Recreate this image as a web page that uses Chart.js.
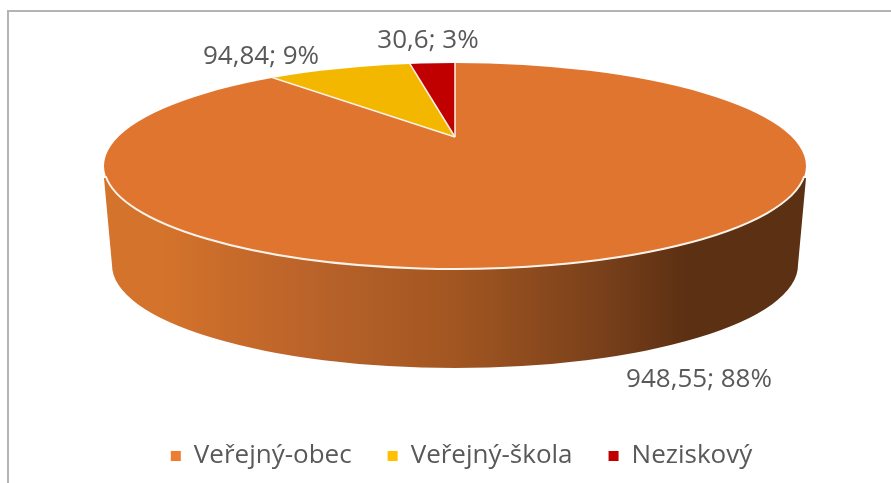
<!DOCTYPE html>
<html lang="cs">
<head>
<meta charset="utf-8">
<title>Graf</title>
<script src="https://cdn.jsdelivr.net/npm/chart.js@4/dist/chart.umd.min.js"></script>
<style>
    html, body { margin: 0; background: #fff; }
    #frame { position: absolute; left: 7px; top: 10px; right: 0; bottom: 0; border-left: 2px solid #b4b4b4; border-top: 2px solid #b4b4b4; }
    #pie { position: absolute; left: 0; top: 0; }
</style>
</head>
<body>
<div id="frame"></div>
<canvas id="pie" width="891" height="483"></canvas>
<script>
const categories = ['Veřejný-obec', 'Veřejný-škola', 'Neziskový'];
const values = [948.55, 94.84, 30.6];
const percents = [88, 9, 3];
const sliceColors = ['#e0752f', '#f3b700', '#c00000'];
const legendColors = ['#ed7d31', '#ffc000', '#c00000'];

// where the label text sits, same order as categories
const labelAnchors = [[699, 380], [261, 57], [428, 41]];

// look of the tilted disc: top face, lower rim, and the point where slices meet
const topFace = { x: 455, y: 166, rx: 351, ry: 103 };
const lowerRim = { x: 455, y: 265, rx: 343, ry: 103 };
const apex = { x: 455, y: 137 };
const tilt = topFace.ry / topFace.rx;
const REACH = 460; // slices are drawn longer than the face and clipped to it

const textColor = '#595959';
const fontFamily = '"Open Sans", sans-serif';

function faceOuterPath(ctx) {
    ctx.beginPath();
    ctx.ellipse(topFace.x, topFace.y, topFace.rx, topFace.ry, 0, 0, Math.PI * 2);
}

const diskPlugin = {
    id: 'disk',
    beforeDatasetsDraw(chart) {
        const ctx = chart.ctx;
        const arc = chart.getDatasetMeta(0).data[0];

        // the side wall
        const wall = ctx.createLinearGradient(104, 0, 806, 0);
        wall.addColorStop(0, '#d4732b');
        wall.addColorStop(0.08, '#d4732b');
        wall.addColorStop(0.3, '#b9622a');
        wall.addColorStop(0.5, '#a25621');
        wall.addColorStop(0.7, '#7b411b');
        wall.addColorStop(0.83, '#5c3013');
        wall.addColorStop(1, '#5c3013');
        ctx.save();
        ctx.fillStyle = wall;
        ctx.beginPath();
        ctx.ellipse(lowerRim.x, lowerRim.y, lowerRim.rx, lowerRim.ry, 0, 0, Math.PI);
        ctx.lineTo(104, 178);
        ctx.lineTo(806, 178);
        ctx.closePath();
        ctx.fill();
        ctx.restore();

        // squash the slices onto the top face
        const k = REACH / arc.outerRadius;
        ctx.save();
        faceOuterPath(ctx);
        ctx.clip();
        ctx.translate(apex.x, apex.y);
        ctx.scale(k, k * tilt);
        ctx.translate(-arc.x, -arc.y);
    },
    afterDatasetsDraw(chart) {
        const ctx = chart.ctx;
        ctx.restore();

        // white seams between the slices
        ctx.save();
        faceOuterPath(ctx);
        ctx.clip();
        ctx.strokeStyle = '#fbf3ea';
        ctx.lineWidth = 1.5;
        chart.getDatasetMeta(0).data.forEach(arc => {
            ctx.beginPath();
            ctx.moveTo(apex.x, apex.y);
            ctx.lineTo(apex.x + Math.cos(arc.startAngle) * REACH, apex.y + Math.sin(arc.startAngle) * REACH * tilt);
            ctx.stroke();
        });
        ctx.restore();

        // white edge along the front of the face
        ctx.save();
        ctx.strokeStyle = '#fbf3ea';
        ctx.lineWidth = 2;
        ctx.beginPath();
        ctx.ellipse(topFace.x, topFace.y, topFace.rx, topFace.ry, 0, 0.1, Math.PI - 0.1);
        ctx.stroke();
        ctx.restore();

        // value; percent labels
        ctx.save();
        ctx.fillStyle = textColor;
        ctx.font = '26px ' + fontFamily;
        ctx.textAlign = 'center';
        ctx.textBaseline = 'middle';
        values.forEach((v, i) => {
            const text = String(v).replace('.', ',') + '; ' + percents[i] + '%';
            ctx.fillText(text, labelAnchors[i][0], labelAnchors[i][1]);
        });
        ctx.restore();
    }
};

document.addEventListener('DOMContentLoaded', () => {
    new Chart(document.getElementById('pie'), {
        type: 'pie',
        data: {
            labels: categories,
            datasets: [{
                data: values,
                backgroundColor: sliceColors,
                borderWidth: 0
            }]
        },
        options: {
            responsive: false,
            animation: false,
            layout: { padding: { bottom: 4, left: 32 } },
            plugins: {
                tooltip: { enabled: false },
                legend: {
                    position: 'bottom',
                    labels: {
                        color: textColor,
                        font: { family: fontFamily, size: 26 },
                        boxWidth: 10,
                        boxHeight: 10,
                        padding: 36,
                        generateLabels: () => categories.map((name, i) => ({
                            text: name,
                            fillStyle: legendColors[i],
                            strokeStyle: legendColors[i],
                            lineWidth: 0,
                            fontColor: textColor,
                            index: i
                        }))
                    }
                }
            }
        },
        plugins: [diskPlugin]
    });
});
</script>
</body>
</html>
